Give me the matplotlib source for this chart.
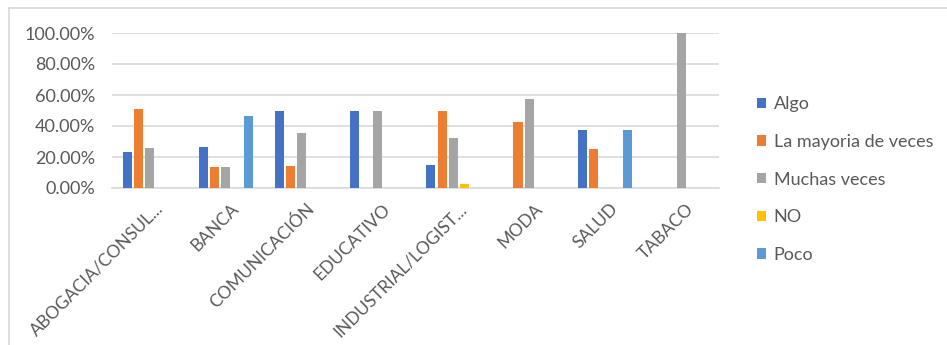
import matplotlib
matplotlib.use("Agg")
import matplotlib.pyplot as plt
from matplotlib.patches import Patch
import numpy as np

plt.rcParams['font.family'] = ['Lato', 'DejaVu Sans']

categories = ["ABOGACIA/CONSUL...", "BANCA", "COMUNICACIÓN", "EDUCATIVO",
              "INDUSTRIAL/LOGIST...", "MODA", "SALUD", "TABACO"]
series_names = ["Algo", "La mayoria de veces", "Muchas veces", "NO", "Poco"]
algo = [0.2308, 0.2667, 0.50, 0.50, 0.15, 0.0, 0.375, 0.0]
mayoria = [0.5128, 0.1333, 0.1429, 0.0, 0.50, 0.4286, 0.25, 0.0]
muchas = [0.2564, 0.1333, 0.3571, 0.50, 0.325, 0.5714, 0.0, 1.0]
no_vals = [0.0, 0.0, 0.0, 0.0, 0.025, 0.0, 0.0, 0.0]
poco = [0.0, 0.4667, 0.0, 0.0, 0.0, 0.0, 0.375, 0.0]
yticks = [0.0, 0.2, 0.4, 0.6, 0.8, 1.0]
ytick_labels = ["0.00%", "20.00%", "40.00%", "60.00%", "80.00%", "100.00%"]

colors = ["#4472C4", "#ED7D31", "#A5A5A5", "#FFC000", "#5B9BD5"]
all_series = [algo, mayoria, muchas, no_vals, poco]

W, H = 947, 345
fig = plt.figure(figsize=(W / 100, H / 100), dpi=100)
fig.patch.set_facecolor("white")

# chart-area frame (top and left edges visible)
fig.add_artist(plt.Line2D([9 / W, 1.0], [1 - 8 / H, 1 - 8 / H], color="#D9D9D9", lw=1.2,
                          transform=fig.transFigure))
fig.add_artist(plt.Line2D([9 / W, 9 / W], [0.0, 1 - 8 / H], color="#D9D9D9", lw=1.2,
                          transform=fig.transFigure))

ax = fig.add_axes([112 / W, 1 - 188 / H, (719 - 112) / W, (188 - 33) / H])
x = np.arange(len(categories))
pitch = 0.149
width = 0.119
for i, (vals, col) in enumerate(zip(all_series, colors)):
    v = np.array(vals, dtype=float)
    v[v == 0] = np.nan
    ax.bar(x + (i - 2) * pitch, v, width=width, color=col, zorder=3)

ax.set_xlim(-0.5, len(categories) - 0.5)
ax.set_ylim(0, 1.0)
ax.set_yticks(yticks)
ax.set_yticklabels(ytick_labels, fontsize=13, color="#595959")
ax.yaxis.grid(True, color="#D9D9D9", lw=1.2, zorder=0)
ax.set_axisbelow(True)
for s in ["top", "right", "left"]:
    ax.spines[s].set_visible(False)
ax.spines["bottom"].set_color("#D9D9D9")
ax.spines["bottom"].set_linewidth(1.2)
ax.tick_params(axis="both", length=0)
ax.tick_params(axis="y", pad=12)

ax.set_xticks(x + 0.06)
ax.set_xticklabels(categories, rotation=45, ha="right", rotation_mode="anchor",
                   fontsize=12.5, color="#595959")
ax.tick_params(axis="x", pad=9)

handles = [Patch(facecolor=c, edgecolor="none") for c in colors]
fig.legend(handles, series_names, loc="upper left", bbox_to_anchor=(741 / W, 1 - 80 / H),
           frameon=False, fontsize=13, labelcolor="#595959", handlelength=0.5,
           handleheight=0.5, handletextpad=0.4, labelspacing=1.2)

fig.savefig("out.png", dpi=100, facecolor="white")
